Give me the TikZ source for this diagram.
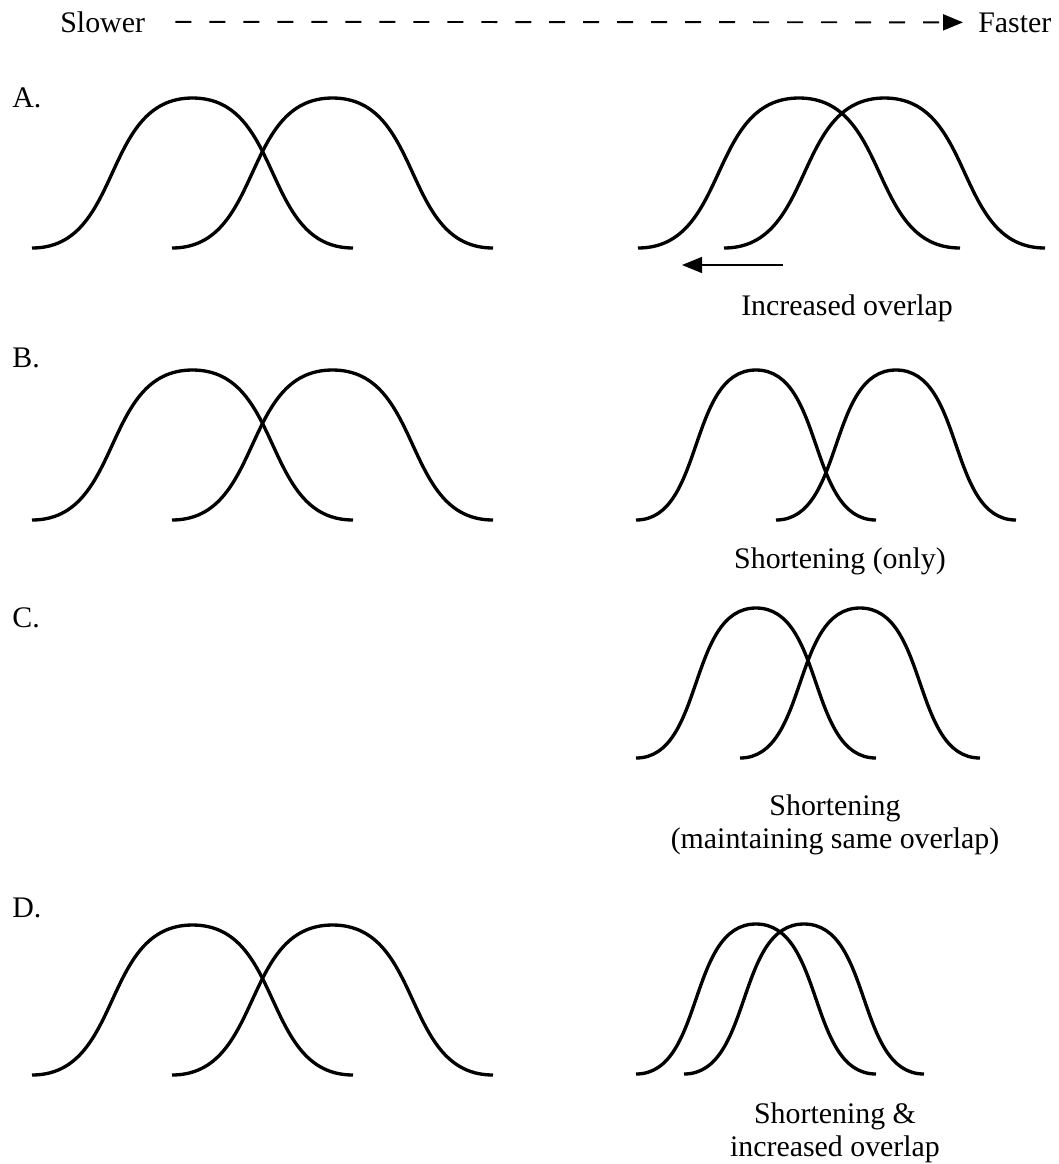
\documentclass[tikz,border=0pt]{standalone}
\usepackage{fontspec}
\setmainfont{Liberation Serif}
\usepackage{tikz}
\usetikzlibrary{arrows.meta,positioning}

% one bell: left end x, half width, baseline y (height is fixed)
\newcommand{\bellcurve}[3]{%
  \draw[bell] (#1,#3) .. controls +(0.57*#2,0) and +(-0.57*#2,0) .. (#1+#2,#3-150)
    .. controls +(0.57*#2,0) and +(-0.57*#2,0) .. (#1+2*#2,#3);}

\begin{document}
\begin{tikzpicture}[
    x=0.02cm, y=-0.02cm,
    every node/.style={inner sep=0pt, font=\fontsize{17}{18.8}\selectfont},
    bell/.style={line width=1.9pt},
    rowlabel/.style={anchor=base west},
    note/.style={align=center, anchor=north},
    speed/.style={dash pattern=on 0.32cm off 0.36cm, line width=1.1pt, -{Triangle[length=0.4cm,width=0.32cm]}},
    shiftarrow/.style={line width=0.75pt, -{Triangle[length=0.4cm,width=0.32cm]}}
  ]
  \useasboundingbox (0,0) rectangle (1059,1164);

  % speed axis
  \node[rowlabel] (slow) at (60,32) {Slower};
  \node[rowlabel] (fast) at (978,32) {Faster};
  \draw[speed, shorten <=0.6cm, shorten >=0.3cm] (slow.east) -- (fast.west);

  % row labels
  \node[rowlabel] (rowA) at (12,107) {A.};
  \node[rowlabel] (rowB) at (12,367) {B.};
  \node[rowlabel] (rowC) at (12,627) {C.};
  \node[rowlabel] (rowD) at (12,917) {D.};

  % slower: same pair in A, B and D
  \foreach \yb in {248,520,1075} {
    \bellcurve{32}{160.5}{\yb}
    \bellcurve{172}{160.5}{\yb}
  }

  % faster
  \bellcurve{638}{161}{248}
  \bellcurve{724}{160.5}{248}
  \bellcurve{636}{120}{520}
  \bellcurve{776}{120}{520}
  \bellcurve{636}{120}{758}
  \bellcurve{740}{120}{758}
  \bellcurve{636}{120}{1074}
  \bellcurve{684}{120}{1074}

  \coordinate (ovstart) at (783,265);
  \coordinate (ovend) at (682,265);
  \draw[shiftarrow] (ovstart) -- (ovend);

  \node[anchor=base] (noteA) at (847,315) {Increased overlap};
  \node[anchor=base] (noteB) at (840,568) {Shortening (only)};
  \node[note] (noteC) at (835,794) {Shortening\\(maintaining same overlap)};
  \node[note] (noteD) at (835,1102) {Shortening \&\\increased overlap};
\end{tikzpicture}
\end{document}
